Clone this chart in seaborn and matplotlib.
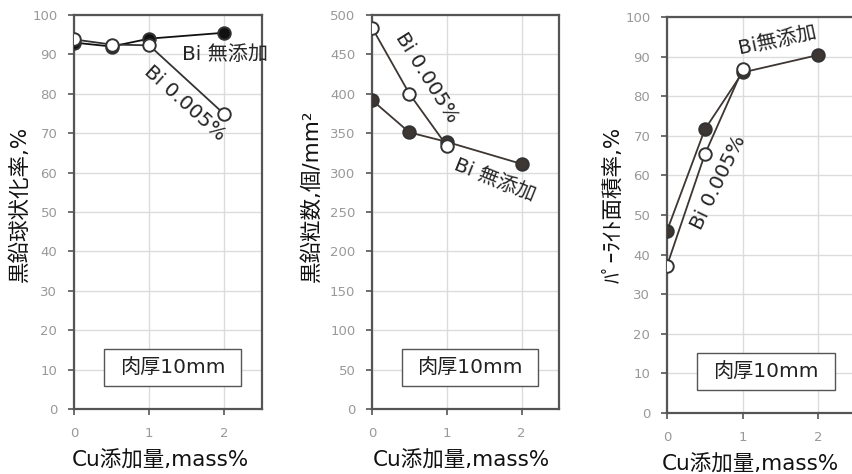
import matplotlib
matplotlib.use("Agg")
import matplotlib.pyplot as plt
import seaborn as sns
from matplotlib.patches import Rectangle

# Cu addition, mass%
cu_free = [0, 0.5, 1, 2]
cu_bi = [0, 0.5, 1, 2]

# graphite nodularity, %
nod_free = [93, 92, 94, 95.5]
nod_bi = [93.8, 92.5, 92.3, 74.8]

# graphite nodule count, /mm2
cnt_free = [392, 351, 339, 311]
cnt_bi = [484, 400, 334]
cu_bi_cnt = [0, 0.5, 1]

# pearlite area fraction, %
pea_free = [46, 71.6, 86, 90.4]
pea_bi = [37.2, 65.3, 86.8]
cu_bi_pea = [0, 0.5, 1]

sns.set_theme(style="white")
plt.rcParams['font.family'] = ['DejaVu Sans', 'Noto Sans CJK JP']

fig = plt.figure(figsize=(8.52, 4.74), dpi=100)

W, H = 852, 474
def px_axes(l, t, r, b):
    return fig.add_axes([l / W, 1 - b / H, (r - l) / W, (b - t) / H])

ax1 = px_axes(74, 15, 262, 409)
ax2 = px_axes(372, 15, 559, 409)
ax3 = px_axes(667, 17, 856, 413)

grid_c = '#dcdcdc'
spine_c = '#555555'
tick_c = '#999999'


def style(ax, ymax, ystep):
    ax.set_xlim(0, 2.5)
    ax.set_ylim(0, ymax)
    ax.set_xticks([0, 1, 2])
    ax.set_yticks(range(0, ymax + 1, ystep))
    ax.grid(True, color=grid_c, lw=1)
    ax.set_axisbelow(True)
    for s in ax.spines.values():
        s.set_color(spine_c)
        s.set_linewidth(1.6)
    ax.tick_params(axis='both', colors=spine_c, labelcolor=tick_c,
                   labelsize=9.5, length=4, width=1.2, direction='out',
                   left=True, bottom=True)
    ax.tick_params(axis='y', pad=8)
    ax.tick_params(axis='x', pad=9)
    ax.set_xlabel('')
    ax.set_ylabel('')
    ax.add_patch(Rectangle((0.16, 0.058), 0.73, 0.094, transform=ax.transAxes,
                           fill=True, facecolor='white', edgecolor='#555555', lw=1.0,
                           zorder=4))
    ax.text(0.525, 0.105, '肉厚10mm', transform=ax.transAxes, ha='center',
            va='center', fontsize=14.5, color='#222222', zorder=5)


def series(ax, x, y, col, filled):
    sns.lineplot(x=x, y=y, ax=ax, color=col, lw=1.3, marker='o', markersize=9,
                 markerfacecolor=col if filled else 'white',
                 markeredgecolor='#333333', markeredgewidth=1.4,
                 sort=False, legend=False, zorder=3)


# panel 1
series(ax1, cu_free, nod_free, '#111111', True)
series(ax1, cu_bi, nod_bi, '#333333', False)
style(ax1, 100, 10)
ax1.text(2.01, 90.1, 'Bi 無添加', ha='center', va='center', fontsize=14.5)
ax1.text(1.47, 77.7, 'Bi 0.005%', ha='center', va='center', fontsize=14.5, rotation=-42)

# panel 2
series(ax2, cu_free, cnt_free, '#3d3632', True)
series(ax2, cu_bi_cnt, cnt_bi, '#3d3632', False)
style(ax2, 500, 50)
ax2.text(0.73, 420, 'Bi 0.005%', ha='center', va='center', fontsize=14.5, rotation=-58)
ax2.text(1.64, 290, 'Bi 無添加', ha='center', va='center', fontsize=14.5, rotation=-22)

# panel 3
series(ax3, cu_free, pea_free, '#3d3632', True)
series(ax3, cu_bi_pea, pea_bi, '#3d3632', False)
style(ax3, 100, 10)
ax3.text(1.46, 94, 'Bi無添加', ha='center', va='center', fontsize=14.5, rotation=12)
ax3.text(0.68, 58.3, 'Bi 0.005%', ha='center', va='center', fontsize=14.5, rotation=64)

# axis labels
for ax, lab, lx, ly in [(ax1, '黒鉛球状化率,%', -0.287, 0.52),
                        (ax2, '黒鉛粒数,個/mm²', -0.32, 0.54),
                        (ax3, 'ﾊﾟｰﾗｲﾄ面積率,%', -0.284, 0.525)]:
    ax.text(lx, ly, lab, transform=ax.transAxes, rotation=90, ha='center',
            va='center', fontsize=15.5, color='#111111')
for ax, xx in [(ax1, 0.457), (ax2, 0.476), (ax3, 0.44)]:
    ax.text(xx, -0.13, 'Cu添加量,mass%', transform=ax.transAxes, ha='center',
            va='center', fontsize=15.5, color='#111111')

fig.savefig('out.png', dpi=100)
